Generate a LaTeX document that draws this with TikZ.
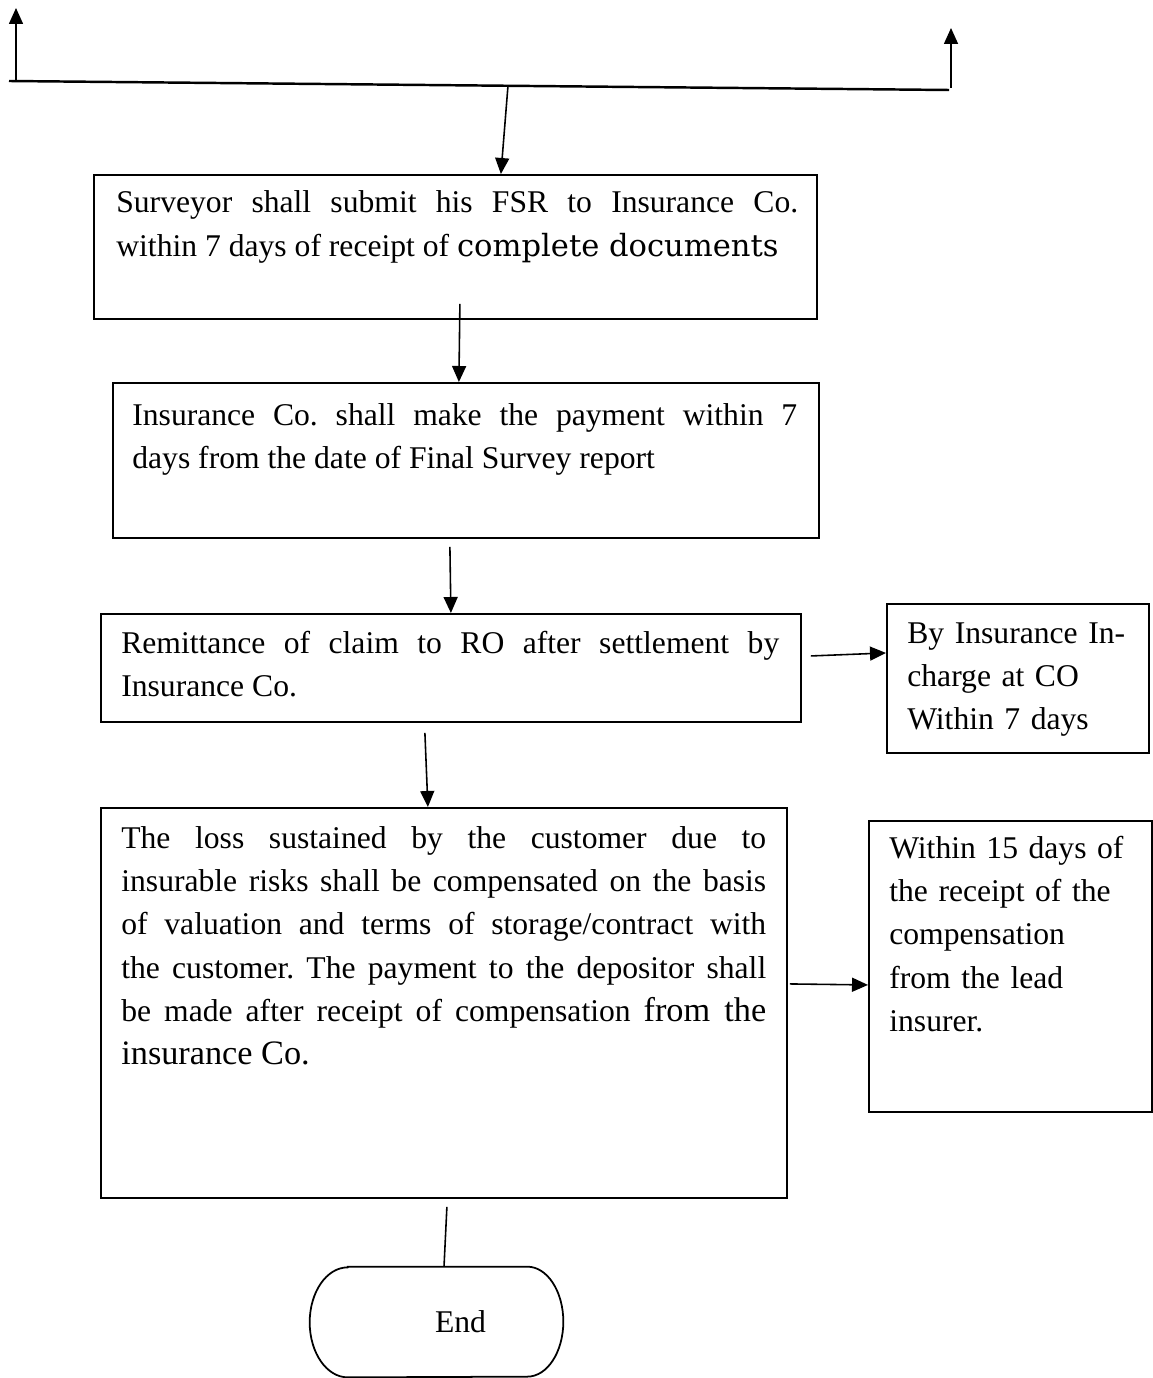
\documentclass[tikz,border=0pt]{standalone}
\usepackage{fontspec}
\setmainfont{Liberation Serif}
\newfontfamily\cambriafont{DejaVu Serif}
\usetikzlibrary{arrows.meta}
\hyphenpenalty=10000
\exhyphenpenalty=10000
\frenchspacing
\begin{document}
\begin{tikzpicture}[x=0.02cm,y=-0.02cm,
  box/.style={draw, line width=1.1pt, rectangle, inner sep=0pt, anchor=north west},
  txt/.style={anchor=base west, inner sep=0pt, align=justify,
    font=\fontsize{18pt}{24.7pt}\selectfont},
  txtl/.style={txt, align=left},
  arr/.style={line width=0.9pt, -{Triangle[length=3.2mm,width=2.8mm]}},
  plainline/.style={line width=0.9pt},
  thickline/.style={line width=1.4pt},
  endshape/.style={rectangle, minimum width=5.06cm, minimum height=2.2cm, inner sep=0pt,
    font=\fontsize{18pt}{24.7pt}\selectfont},
  endline/.style={line width=1pt}]
\useasboundingbox (0,0) rectangle (1152,1378);

% top junction line
\coordinate (L0) at (9,81);
\coordinate (R0) at (949,90);
\coordinate (LB) at (16,81.3);
\coordinate (LA) at (16,8);
\coordinate (RB) at (951,88);
\coordinate (RA) at (951,28);
\coordinate (M) at (508,85.5);

% boxes
\node[box, minimum width=14.46cm, minimum height=2.88cm] (b1) at (93,174) {};
\node[box, minimum width=14.12cm, minimum height=3.10cm] (b2) at (112,382) {};
\node[box, minimum width=14.00cm, minimum height=2.16cm] (b3) at (100,613) {};
\node[box, minimum width=5.24cm, minimum height=2.98cm] (b4) at (886,603) {};
\node[box, minimum width=13.72cm, minimum height=7.80cm] (b5) at (100,807) {};
\node[box, minimum width=5.66cm, minimum height=5.82cm] (b6) at (868,820) {};
\node[endshape] (end) at (436.5,1322) {\hspace*{0.96cm}End};
\draw[endline] ([shift={(38,0)}]end.north west) -- ([shift={(-36,0)}]end.north east)
  arc[start angle=90, end angle=-90, x radius=0.72cm, y radius=1.1cm]
  -- ([shift={(38,0)}]end.south west)
  arc[start angle=270, end angle=90, x radius=0.76cm, y radius=1.1cm] -- cycle;

% texts
\node[txt, text width=13.64cm] (t1) at (116,213)
  {Surveyor shall submit his FSR to Insurance Co.\linebreak within 7 days of receipt of {\cambriafont\fontsize{17.4pt}{24.7pt}\selectfont complete documents}};
\node[txt, text width=13.30cm] (t2) at (132,425)
  {Insurance Co. shall make the payment within 7\linebreak days from the date of Final Survey report};
\node[txt, text width=13.16cm] (t3) at (121,653)
  {Remittance of claim to RO after settlement by\linebreak Insurance Co.};
\node[txtl, text width=4.76cm] (t4) at (907,643)
  {By Insurance In-\\charge at CO\\Within 7 days};
\node[txt, text width=12.90cm] (t5) at (121,848)
  {The loss sustained by the customer due to\linebreak
   insurable risks shall be compensated on the basis\linebreak
   of valuation and terms of storage/contract with\linebreak
   the customer. The payment to the depositor shall\linebreak
   be made after receipt of compensation {\fontsize{19.5pt}{24.7pt}\selectfont from the}\linebreak
   {\fontsize{19.5pt}{24.7pt}\selectfont insurance Co.}};
\node[txtl, text width=5.10cm] (t6) at (889,858)
  {Within 15 days of\\the receipt of the\\compensation\\from the lead\\insurer.};

% connectors
\draw[thickline] (L0) -- (R0);
\draw[arr] (LB) -- (LA);
\draw[arr] (RB) -- (RA);
\draw[arr] (M) -- ([shift={(45.5,0)}]b1.north);
\draw[arr] ([shift={(4.5,-16)}]b1.south) -- ([shift={(-7,0)}]b2.north);
\draw[arr] ([shift={(-16,8)}]b2.south) -- (b3.north);
\draw[arr] ([shift={(9,-12)}]b3.east) -- ([shift={(0,-25.5)}]b4.west);
\draw[arr] ([shift={(-26,10)}]b3.south) -- ([shift={(-16,0)}]b5.north);
\draw[arr] ([shift={(2,-19)}]b5.east) -- ([shift={(0,18.5)}]b6.west);
\draw[plainline] ([shift={(3,8)}]b5.south) -- ([shift={(7.5,0)}]end.north);
\end{tikzpicture}
\end{document}
